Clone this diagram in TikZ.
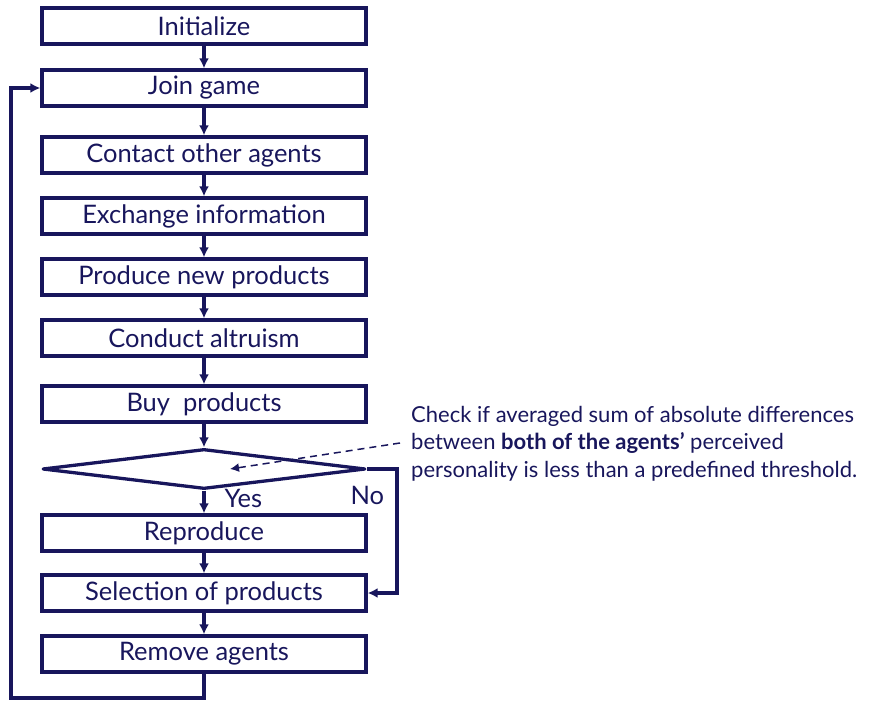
\documentclass[tikz,border=0pt]{standalone}
\usepackage{fontspec}
\setmainfont{Lato}
\usetikzlibrary{arrows.meta,shapes.geometric}
\definecolor{navy}{RGB}{24,22,92}
\def\mid{204}
\def\boxw{324pt}

\begin{document}
\begin{tikzpicture}[x=1pt,y=-1pt,
    stepbox/.style={draw=navy,line width=3.3pt,minimum width=\boxw,minimum height=36pt,
      inner sep=0pt,text=navy,font=\fontsize{25.5}{28}\selectfont},
    flow/.style={draw=navy,line width=3.3pt,-{Latex[length=10pt,width=10pt]}}]
  \useasboundingbox (0,0) rectangle (872,701);
  \foreach \y/\n/\t in {26/init/Initialize, 88/join/Join game,
      155/contact/Contact other agents, 216/exchange/Exchange information,
      277/produce/Produce new products, 338/altruism/Conduct altruism,
      404/buy/Buy~ products, 533/repro/Reproduce,
      593/select/Selection of products, 654/remove/Remove agents} {
    \node[stepbox] (\n) at (\mid,\y) {\t};
  }
  \node[draw=navy,line width=3.3pt,line join=round,diamond,minimum width=323pt,
    minimum height=40pt,inner sep=0pt] (check) at (\mid,469) {};
  \foreach \a/\b in {init/join,join/contact,contact/exchange,exchange/produce,
      produce/altruism,altruism/buy,buy/check,check/repro,repro/select,select/remove} {
    \draw[flow] (\a) -- (\b);
  }
  % no branch
  \draw[flow] (check.east) -- (397,469) |- (select.east);
  % back to join game
  \draw[flow] (remove.south) -- (\mid,698) -- (11,698) |- (join.west);
  \node[text=navy,font=\fontsize{25.5}{28}\selectfont,anchor=west] (yes) at (221,498) {Yes};
  \node[text=navy,font=\fontsize{25.5}{28}\selectfont,anchor=west] (no) at (347,495) {No};
  % the note on the check
  \node[text=navy,font=\fontsize{22}{27.5}\selectfont,anchor=north west,align=left,inner sep=0pt]
    (note) at (411,406) {Check if averaged sum of absolute differences\\
    between \textbf{both of the agents'} perceived\\
    personality is less than a predefined threshold.};
  \coordinate (tip) at (230,469);
  \coordinate (tail) at (400,443);
  \draw[navy,line width=1.5pt,dashed,dash pattern=on 7pt off 5pt,-{Latex[length=9pt,width=9pt]}]
    (tail) -- (tip);
\end{tikzpicture}
\end{document}
